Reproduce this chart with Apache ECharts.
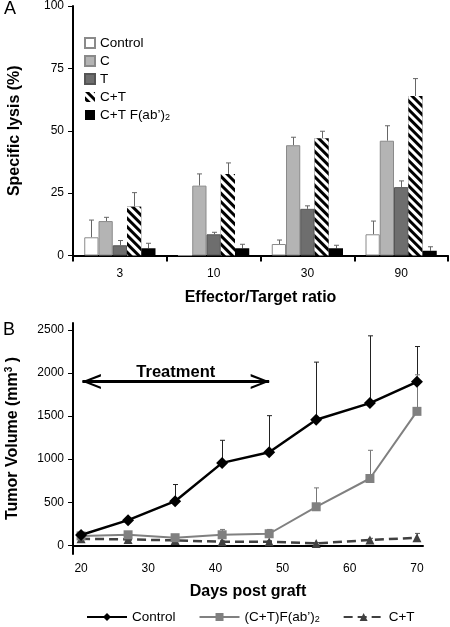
<!DOCTYPE html>
<html><head><meta charset="utf-8">
<script src="https://cdn.jsdelivr.net/npm/echarts@6/dist/echarts.min.js"></script>
<style>html,body{margin:0;padding:0;background:#fff}#c{width:450px;height:627px}</style>
</head><body><div id="c"></div>
<script>
// ---------- Panel A data ----------
const ratioCategories = ['3', '10', '30', '90'];
const lysisNames = ['Control', 'C', 'T', 'C+T', 'C+T F(ab’)2'];
const lysisControl = [7.3, 0, 4.6, 8.5];
const lysisControlErr = [6.9, 0, 1.6, 5.3];
const lysisC = [13.8, 28.0, 44.2, 46.0];
const lysisCErr = [1.5, 4.7, 3.2, 6.0];
const lysisT = [4.1, 8.5, 18.7, 27.4];
const lysisTErr = [1.9, 0.8, 1.2, 2.5];
const lysisCT = [19.6, 32.7, 47.0, 63.9];
const lysisCTErr = [5.6, 4.4, 2.8, 7.0];
const lysisF = [2.9, 2.9, 2.9, 1.9];
const lysisFErr = [2.0, 1.6, 1.2, 1.6];

// ---------- Panel B data ----------
const days = [20, 27, 34, 41, 48, 55, 63, 70];
// trailing spaces keep these names distinct from panel A names (trimmed in legend)
const volNames = ['Control ', '(C+T)F(ab’)2', 'C+T '];
const volControl = [120, 293, 513, 957, 1080, 1458, 1651, 1898];
const volControlErr = [20, 30, 193, 262, 425, 668, 780, 409];
const volF = [110, 123, 89, 123, 135, 448, 776, 1555];
const volFErr = [15, 20, 15, 62, 50, 219, 327, 424];
const volCT = [77, 69, 58, 42, 42, 23, 62, 89];
const volCTErr = [10, 10, 10, 10, 10, 10, 20, 50];
const volumeTicks = [0, 500, 1000, 1500, 2000, 2500];
const dayTicks = [20, 30, 40, 50, 60, 70];
const treatmentStart = 20.2, treatmentEnd = 48, treatmentLevel = 1900;

const FONT = 'Liberation Sans, Arial, sans-serif';
const CAT_GAP = 0.24;

const lysisValues = [lysisControl, lysisC, lysisT, lysisCT, lysisF];
const lysisErrs = [lysisControlErr, lysisCErr, lysisTErr, lysisCTErr, lysisFErr];
const barStyles = [
  {color: '#ffffff', borderColor: '#8a8a8a', borderWidth: 1},
  {color: '#b4b4b4', borderColor: '#8a8a8a', borderWidth: 1},
  {color: '#6e6e6e', borderColor: '#555555', borderWidth: 1},
  {color: '#000000', borderColor: '#000000', borderWidth: 0,
   decal: {symbol: 'rect', symbolSize: 1, color: '#ffffff', dashArrayX: [1, 0], dashArrayY: [2.5, 2.5], rotation: Math.PI / 4}},
  {color: '#000000', borderColor: '#000000', borderWidth: 0}
];

function subFormatter(name) {
  name = name.trim();
  return name.endsWith('2') ? name.slice(0, -1) + '{sub|2}' : name;
}

const series = [];
lysisNames.forEach((n, k) => {
  series.push({
    type: 'bar', name: n, xAxisIndex: 0, yAxisIndex: 0,
    data: lysisValues[k], barGap: '0%', barCategoryGap: (CAT_GAP * 100) + '%',
    itemStyle: barStyles[k], emphasis: {disabled: true}
  });
});
lysisNames.forEach((n, k) => {
  series.push({
    type: 'custom', xAxisIndex: 0, yAxisIndex: 0, silent: true, z: 1,
    data: lysisValues[k].map((v, i) => [i, v, v + lysisErrs[k][i]]),
    renderItem(params, api) {
      const i = api.value(0), v = api.value(1), top = api.value(2);
      if (!(top > v)) return null;
      const band = api.size([1, 0])[0];
      const bw = band * (1 - CAT_GAP) / 5;
      const b = api.coord([i, v]), t = api.coord([i, top]);
      const x = Math.round(b[0] + (k - 2) * bw) + 0.5;
      const st = {stroke: '#666', lineWidth: 1};
      return {type: 'group', children: [
        {type: 'line', shape: {x1: x, y1: b[1], x2: x, y2: t[1]}, style: st},
        {type: 'line', shape: {x1: x - 2.5, y1: t[1], x2: x + 2.5, y2: t[1]}, style: st}
      ]};
    }
  });
});

const volValues = [volControl, volF, volCT];
const volErrs = [volControlErr, volFErr, volCTErr];
const lineStyles = [
  {color: '#000000', width: 2.5, type: 'solid', symbol: 'diamond', size: 12, err: '#222'},
  {color: '#808080', width: 2, type: 'solid', symbol: 'rect', size: 9, err: '#777'},
  {color: '#404040', width: 2.5, type: [9, 5], symbol: 'triangle', size: 9, err: '#555'}
];
volNames.forEach((n, k) => {
  const s = lineStyles[k];
  series.push({
    type: 'custom', xAxisIndex: 1, yAxisIndex: 1, silent: true, z: 1,
    data: days.map((d, i) => [d, volValues[k][i], volValues[k][i] + volErrs[k][i]]),
    renderItem(params, api) {
      const b = api.coord([api.value(0), api.value(1)]);
      const t = api.coord([api.value(0), api.value(2)]);
      const x = Math.round(b[0]) + 0.5;
      const st = {stroke: s.err, lineWidth: 1};
      return {type: 'group', children: [
        {type: 'line', shape: {x1: x, y1: b[1], x2: x, y2: t[1]}, style: st},
        {type: 'line', shape: {x1: x - 2.5, y1: t[1], x2: x + 2.5, y2: t[1]}, style: st}
      ]};
    }
  });
});
volNames.forEach((n, k) => {
  const s = lineStyles[k];
  const ser = {
    type: 'line', name: n, xAxisIndex: 1, yAxisIndex: 1, z: 5 - k,
    data: days.map((d, i) => [d, volValues[k][i]]),
    symbol: s.symbol, symbolSize: s.size, showAllSymbol: true,
    lineStyle: {color: s.color, width: s.width, type: s.type},
    itemStyle: {color: s.color}, emphasis: {disabled: true}
  };
  if (k === 0) {
    ser.markLine = {
      silent: true, symbol: 'none',
      lineStyle: {color: '#000', width: 3, type: 'solid'},
      label: {show: true, position: 'middle', formatter: 'Treatment', color: '#000',
              fontFamily: FONT, fontWeight: 'bold', fontSize: 16.5, distance: 1},
      data: [[{coord: [treatmentStart, treatmentLevel]}, {coord: [treatmentEnd, treatmentLevel]}]]
    };
    ser.markPoint = {
      silent: true, label: {show: false},
      itemStyle: {color: '#000'},
      data: [
        {coord: [treatmentStart, treatmentLevel], symbol: 'path://M20,0 L2.5,8 L20,16 L20,13.4 L7.5,8 L20,2.6 Z', symbolSize: [19, 15], symbolKeepAspect: false, symbolOffset: [9, 0]},
        {coord: [treatmentEnd, treatmentLevel], symbol: 'path://M0,0 L17.5,8 L0,16 L0,13.4 L12.5,8 L0,2.6 Z', symbolSize: [19, 15], symbolKeepAspect: false, symbolOffset: [-9, 0]}
      ]
    };
  }
  series.push(ser);
});

const plainNum = v => String(v);
const axisText = {color: '#000', fontFamily: FONT, fontSize: 12};
const nameText = {color: '#000', fontFamily: FONT, fontSize: 16, fontWeight: 'bold'};
const subRich = {sub: {fontSize: 9, fontFamily: FONT, color: '#000', padding: [6, 0, 0, 0]}};

const option = {
  animation: false,
  backgroundColor: '#fff',
  textStyle: {fontFamily: FONT},
  grid: [
    {left: 73, top: 6, width: 375, height: 249.5, containLabel: false, outerBoundsMode: 'none'},
    {left: 73, top: 323, width: 350, height: 231, containLabel: false, outerBoundsMode: 'none'}
  ],
  xAxis: [
    {type: 'category', gridIndex: 0, data: ratioCategories,
     axisLine: {lineStyle: {color: '#000', width: 2}},
     axisTick: {show: true, length: 6, lineStyle: {color: '#000', width: 2}},
     axisLabel: Object.assign({margin: 12}, axisText),
     name: 'Effector/Target ratio', nameLocation: 'middle', nameGap: 34, nameTextStyle: nameText},
    {type: 'value', gridIndex: 1, min: 18.8, max: 70.9,
     splitLine: {show: false},
     axisLine: {lineStyle: {color: '#000', width: 2}},
     axisTick: {show: false, customValues: dayTicks},
     axisLabel: Object.assign({margin: 9, customValues: dayTicks, formatter: plainNum}, axisText),
     name: 'Days post graft', nameLocation: 'middle', nameGap: 30, nameTextStyle: nameText}
  ],
  yAxis: [
    {type: 'value', gridIndex: 0, min: 0, max: 100, interval: 25,
     splitLine: {show: false},
     axisLine: {show: true, lineStyle: {color: '#000', width: 2}},
     axisTick: {show: true, length: 5, lineStyle: {color: '#000', width: 1}},
     axisLabel: Object.assign({margin: 9, formatter: plainNum}, axisText),
     name: 'Specific lysis (%)', nameLocation: 'middle', nameGap: 50, nameTextStyle: nameText},
    {type: 'value', gridIndex: 1, min: -100, max: 2580,
     splitLine: {show: false},
     axisLine: {show: true, lineStyle: {color: '#000', width: 2}},
     axisTick: {show: true, length: 5, customValues: volumeTicks, lineStyle: {color: '#000', width: 1}},
     axisLabel: Object.assign({margin: 9, customValues: volumeTicks, formatter: plainNum}, axisText),
     name: 'Tumor Volume (mm{sup|3} )', nameLocation: 'middle', nameGap: 52,
     nameTextStyle: Object.assign({rich: {sup: {fontSize: 10, fontFamily: FONT, fontWeight: 'bold', color: '#000', padding: [0, 0, 7, 0]}}}, nameText)}
  ],
  legend: [
    {data: lysisNames, orient: 'vertical', left: 79, top: 31, itemWidth: 10, itemHeight: 10, itemGap: 4,
     icon: 'rect', formatter: subFormatter, selectedMode: false,
     textStyle: {color: '#000', fontFamily: FONT, fontSize: 13.5, rich: subRich}},
    {data: volNames, orient: 'horizontal', left: 81, top: 605, itemWidth: 40, itemHeight: 10, itemGap: 23,
     formatter: subFormatter, selectedMode: false,
     textStyle: {color: '#000', fontFamily: FONT, fontSize: 13.5, rich: subRich}}
  ],
  graphic: [
    {type: 'text', left: 4, top: 0, style: {text: 'A', fontFamily: FONT, fontSize: 18, fill: '#000'}},
    {type: 'text', left: 3, top: 321, style: {text: 'B', fontFamily: FONT, fontSize: 18, fill: '#000'}}
  ],
  series: series
};

const chart = echarts.init(document.getElementById('c'), null, {renderer: 'canvas'});
chart.setOption(option);
</script>
</body></html>
